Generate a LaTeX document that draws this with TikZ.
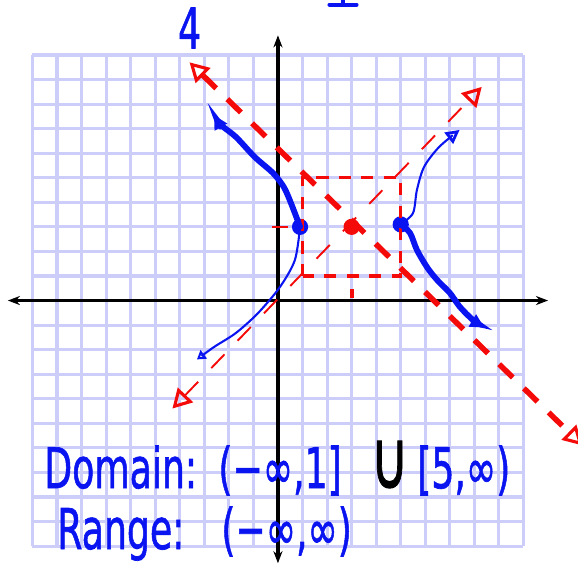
\documentclass[tikz,border=0pt]{standalone}
\usepackage{fontspec}
\setmainfont{DejaVu Sans}
\newfontfamily\handfont[FakeBold=1.3]{DejaVu Sans}
\usepackage{tikz}
\usetikzlibrary{arrows.meta, calc}

\definecolor{gridblue}{RGB}{205,205,250}
\definecolor{penblue}{RGB}{10,20,240}
\definecolor{penred}{RGB}{245,10,10}
\newcommand{\hand}[1]{\scalebox{1}[1.55]{\fontsize{21}{25}\handfont #1}}
\tikzset{
    redtip/.tip={Triangle[open, length=11pt, width=12pt, line width=1.8pt]},
    bluetip/.tip={Triangle[open, length=8pt, width=8pt, line width=1.6pt]},
    smalltip/.tip={Triangle[open, length=5pt, width=6pt, line width=1.2pt]}
}

\begin{document}
\begin{tikzpicture}[x=0.5cm, y=0.5cm, >=Stealth,
    gridline/.style={gridblue, line width=1.8pt},
    axisline/.style={black, line width=2.2pt, {Stealth[length=7pt]}-{Stealth[length=7pt]}},
    asymthick/.style={penred, line width=3.2pt, dash pattern=on 11pt off 9pt, redtip-redtip},
    asymthin/.style={penred, line width=1.1pt, dash pattern=on 11pt off 11pt, redtip-redtip},
    boxdash/.style={penred, line width=2pt, dash pattern=on 7pt off 6pt},
    curvethick/.style={penblue, line width=3.4pt, line cap=round},
    curvethin/.style={penblue, line width=1.2pt, line cap=round},
    dot/.style={circle, fill, inner sep=0pt, minimum size=0.33cm},
    handtext/.style={penblue, anchor=base west, inner sep=0pt}]

    \useasboundingbox (-11.32,-10.81) rectangle (12.22,12.24);

    % graph paper and axes
    \draw[gridline, step=0.5cm] (-10,-10) grid (10,10);
    \coordinate (xl) at (-11,0);
    \coordinate (xr) at (11,0);
    \coordinate (yb) at (0,-10.7);
    \coordinate (yt) at (0,10.8);
    \draw[axisline] (xl) -- (xr);
    \draw[axisline] (yb) -- (yt);

    % centre, vertices
    \node[dot, penred]  (ctr) at (3,3)     {};
    \node[dot, penblue] (vl)  at (0.9,3)   {};
    \node[dot, penblue] (vr)  at (5,3.1)   {};

    % asymptotes and box
    \draw[boxdash] (1,1) rectangle (5,5);
    \draw[asymthick] (-3.6,9.7) -- (12.4,-5.9);
    \draw[asymthin] (-4.3,-4.4) -- (8.3,8.7);
    \draw[penred, line width=1.1pt] (-0.25,3) -- (0.4,3);
    \draw[penred, line width=2.4pt] (3,0.1) -- (3,0.45);

    % hyperbola branches
    \draw[curvethick, -bluetip] plot[smooth] coordinates
        {(vl.center) (0.53,3.97) (0.24,4.62) (-0.2,5.19) (-0.94,5.84) (-1.71,6.66) (-2.32,7.15) (-2.6,7.55)};
    \draw[curvethin, -smalltip] plot[smooth] coordinates
        {(vl.center) (0.69,1.65) (0.08,0.55) (-0.81,-0.51) (-1.71,-1.32) (-2.6,-1.89) (-3.3,-2.4)};
    \draw[curvethin, -bluetip] plot[smooth] coordinates
        {(vr.center) (5.5,3.56) (5.66,4.5) (5.95,5.44) (6.56,6.25) (7.4,6.95)};
    \draw[curvethick, -bluetip] plot[smooth] coordinates
        {(vr.center) (5.38,2.75) (5.66,2.06) (6.07,1.36) (6.48,0.84) (7.0,0.31) (7.41,-0.26) (7.94,-0.79) (8.4,-1.1)};

    % writing
    \node[penblue] (four) at (-3.6,11.1) {\hand{4}};
    \draw[penblue, line width=2.4pt, line cap=round] (2.1,12.05) -- (3.2,12.05) (2.65,12.05) -- (2.65,12.4);
    \node[handtext] (dom)  at (-9.53,-7.64) {\hand{Domain:}};
    \node[handtext] (domA) at (-2.44,-7.64) {\hand{(−∞,1]}};
    \node[handtext, black] (cup) at (3.75,-7.64) {\hand{\scalebox{1.45}{∪}}};
    \node[handtext] (domB) at (5.66,-7.64) {\hand{[5,∞)}};
    \node[handtext] (rng)  at (-9.0,-10.12) {\hand{Range:}};
    \node[handtext] (rngA) at (-2.32,-10.12) {\hand{(−∞,∞)}};
\end{tikzpicture}
\end{document}
